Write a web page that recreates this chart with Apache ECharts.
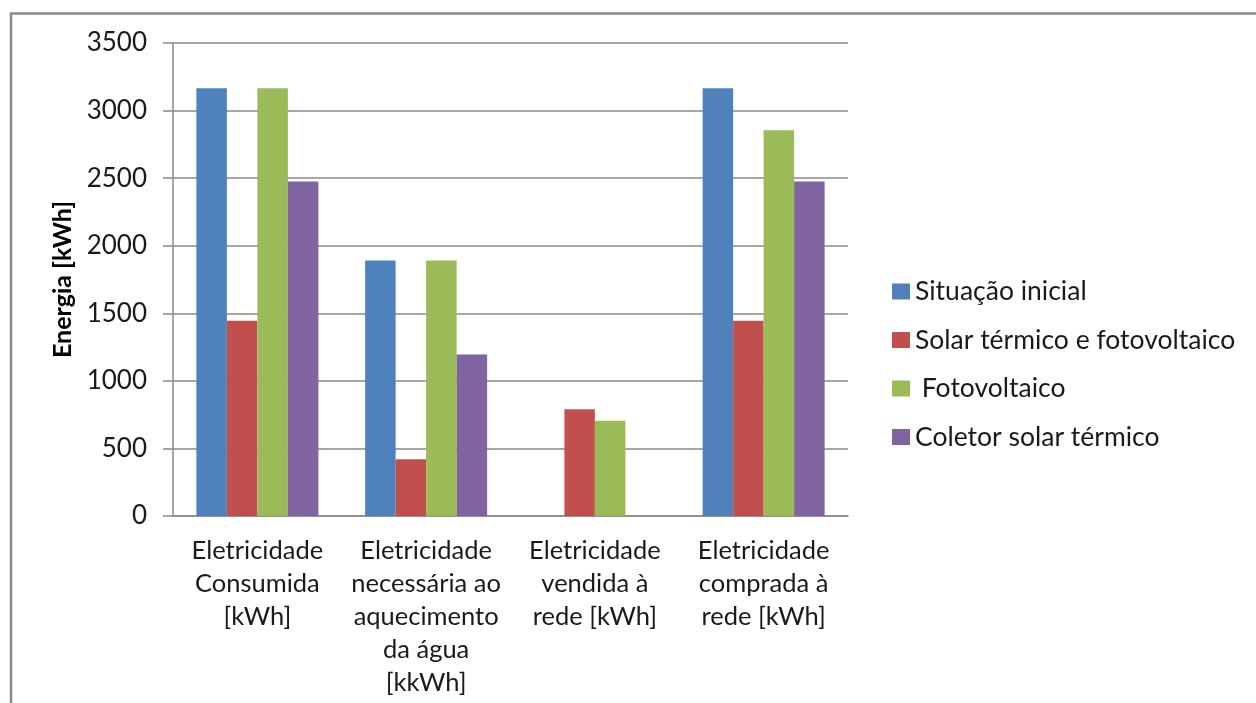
<!DOCTYPE html>
<html>
<head>
<meta charset="utf-8">
<script src="https://cdn.jsdelivr.net/npm/echarts@6/dist/echarts.min.js"></script>
<style>
  html, body { margin: 0; padding: 0; background: #ffffff; }
  #chart { width: 1256px; height: 703px; }
</style>
</head>
<body>
<div id="chart"></div>
<script>
// Categories (x axis)
const categories = [
  'Eletricidade\nConsumida\n[kWh]',
  'Eletricidade\nnecessária ao\naquecimento\nda água\n[kkWh]',
  'Eletricidade\nvendida à\nrede [kWh]',
  'Eletricidade\ncomprada à\nrede [kWh]'
];

// Series values (kWh)
const situacaoInicial   = [3165, 1890, 0, 3165];
const solarTermicoFoto  = [1445, 420, 790, 1445];
const fotovoltaico      = [3165, 1890, 705, 2855];
const coletorSolar      = [2475, 1195, 0, 2475];

const seriesNames = ['Situação inicial', 'Solar térmico e fotovoltaico', ' Fotovoltaico', 'Coletor solar térmico'];
const seriesData = [situacaoInicial, solarTermicoFoto, fotovoltaico, coletorSolar];
const seriesColors = ['#4F81BD', '#C0504D', '#9BBB59', '#8064A2'];

// Y axis ticks
const yMin = 0, yMax = 3500, yStep = 500;

const FONT = 'Lato';

const chart = echarts.init(document.getElementById('chart'), null, { renderer: 'canvas' });

chart.setOption({
  backgroundColor: '#ffffff',
  animation: false,
  textStyle: { fontFamily: FONT },
  graphic: [{
    type: 'rect',
    z: 100,
    silent: true,
    shape: { x: 11, y: 13.5, width: 1300, height: 760 },
    style: { fill: 'none', stroke: '#8a8a8a', lineWidth: 2.5 }
  }],
  legend: {
    orient: 'vertical',
    left: 892,
    top: 278,
    padding: 0,
    itemWidth: 18,
    itemHeight: 16,
    itemGap: 21.5,
    icon: 'rect',
    textStyle: { fontFamily: FONT, fontSize: 26.5, color: '#1a1a1a', lineHeight: 24 },
    data: seriesNames
  },
  grid: { left: 173, right: 408, top: 43, bottom: 187, containLabel: false },
  xAxis: {
    type: 'category',
    data: categories,
    axisLine: { show: true, lineStyle: { color: '#8a8a8a', width: 1.5 } },
    axisTick: { show: false },
    axisLabel: {
      interval: 0,
      margin: 18,
      fontFamily: FONT,
      fontSize: 25.5,
      lineHeight: 33,
      color: '#1a1a1a',
      align: 'center'
    },
    splitLine: { show: false }
  },
  yAxis: {
    type: 'value',
    min: yMin,
    max: yMax,
    interval: yStep,
    name: 'Energia [kWh]',
    nameLocation: 'middle',
    nameGap: 96,
    nameRotate: 90,
    nameTextStyle: { fontFamily: FONT, fontSize: 25, fontWeight: 'bold', color: '#000000' },
    axisLine: { show: true, lineStyle: { color: '#8a8a8a', width: 1.5 } },
    axisTick: { show: true, inside: false, length: 10, lineStyle: { color: '#8a8a8a', width: 1.5 } },
    axisLabel: { margin: 26, fontFamily: FONT, fontSize: 26, color: '#1a1a1a', formatter: v => String(v) },
    splitLine: { show: true, lineStyle: { color: '#8a8a8a', width: 1.5 } }
  },
  series: seriesData.map((d, i) => ({
    name: seriesNames[i],
    type: 'bar',
    data: d,
    barWidth: 30.5,
    barGap: '0%',
    itemStyle: { color: seriesColors[i] }
  }))
});
</script>
</body>
</html>
